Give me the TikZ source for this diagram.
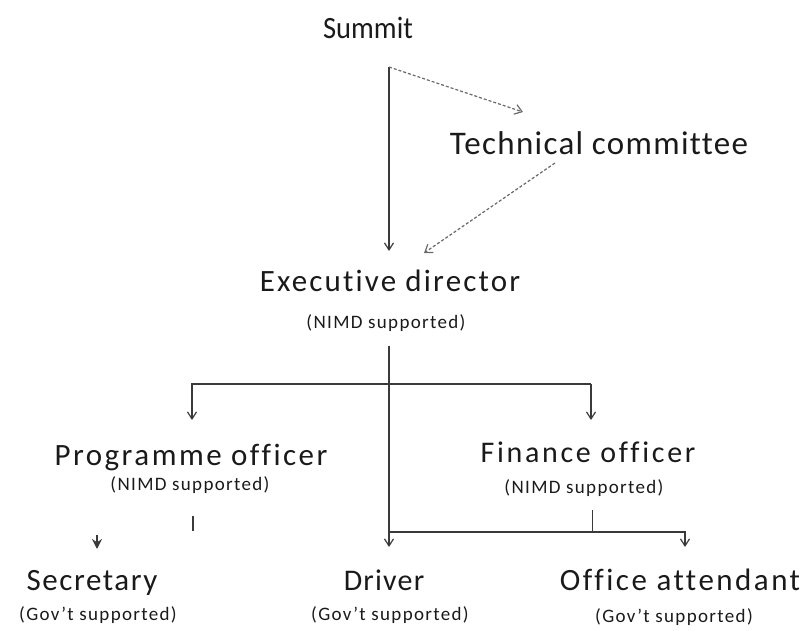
\documentclass[tikz,border=0pt]{standalone}
\usepackage{fontspec}
\setmainfont{Carlito}[Ligatures={NoCommon}]
\usetikzlibrary{arrows.meta}
\definecolor{txt}{HTML}{1A1A1A}
\definecolor{ln}{HTML}{3A3A3A}
\definecolor{dln}{HTML}{6A6A6A}
\newcommand{\bigf}[2]{\fontsize{#1}{#1}\selectfont\addfontfeature{LetterSpace=#2}}
\newcommand{\smallf}{\fontsize{19}{19}\selectfont\addfontfeature{LetterSpace=7}}
\tikzset{
  lbl/.style={anchor=base, inner sep=0pt, text=txt},
  sub/.style={anchor=base, inner sep=0pt, text=txt, font=\smallf},
  conn/.style={draw=ln, line width=1.3pt, -{Straight Barb[length=7pt,width=9pt,line width=1.2pt]}},
  dconn/.style={draw=dln, line width=1.2pt, dash pattern=on 3pt off 2pt, -{Straight Barb[length=7pt,width=10pt,line width=1.2pt]}},
  plain/.style={draw=ln, line width=1.3pt}
}
\begin{document}
\begin{tikzpicture}[x=1pt,y=-1pt]
\useasboundingbox (0,0) rectangle (804,631);
% texts
\node[lbl, font=\bigf{31}{0}] (summit) at (368,39) {\scalebox{0.92}[1]{Summit}};
\node[lbl, font=\bigf{33}{4}] (tech) at (599,155) {Technical committee};
\node[lbl, font=\bigf{31}{7}] (exec) at (390,292) {Executive director};
\node[sub] (execsub) at (386,329) {(NIMD supported)};
\node[lbl, font=\bigf{31}{8}] (prog) at (191,465) {Programme officer};
\node[sub] (progsub) at (190,490) {(NIMD supported)};
\node[lbl, font=\bigf{30}{9}] (fin) at (588,462) {Finance officer};
\node[sub] (finsub) at (584,493) {(NIMD supported)};
\node[lbl, font=\bigf{31}{5}] (sec) at (92,590) {Secretary};
\node[sub] (secsub) at (98,620) {(Gov’t supported)};
\node[lbl, font=\bigf{30}{4}] (drv) at (384,590) {Driver};
\node[sub] (drvsub) at (390,620) {(Gov’t supported)};
\node[lbl, font=\bigf{31}{8}] (att) at (680,590) {Office attendant};
\node[sub] (attsub) at (674,622) {(Gov’t supported)};
% junction coordinates
\coordinate (s0) at (389,67);
\coordinate (e0) at (389,251);
\coordinate (t0) at (523,112);
\coordinate (t1) at (555,163);
\coordinate (e1) at (424,253);
\coordinate (x0) at (389,346);
\coordinate (xh) at (389,384);
\coordinate (pL) at (192,384);
\coordinate (pA) at (192,420);
\coordinate (fR) at (591,384);
\coordinate (fA) at (591,420);
\coordinate (dJ) at (389,532);
\coordinate (dA) at (389,547);
\coordinate (aR) at (685,532);
\coordinate (aA) at (685,547);
\coordinate (f0) at (592,510);
\coordinate (f1) at (592,532);
\coordinate (p0) at (193,516);
\coordinate (p1) at (193,531);
\coordinate (q0) at (97,535);
\coordinate (q1) at (97,549);
% connectors
\draw[conn] (s0) -- (e0);
\draw[dconn] (s0) -- (t0);
\draw[dconn] (t1) -- (e1);
\draw[plain] (x0) -- (xh);
\draw[conn] (xh) -- (pL) -- (pA);
\draw[draw=ln, line width=2.6pt] (xh) -- (fR);
\draw[conn] (fR) -- (fA);
\draw[conn] (xh) -- (dJ) -- (dA);
\draw[plain, line width=1pt] (f0) -- (f1);
\draw[conn] (dJ) -- (aR) -- (aA);
\draw[plain, line width=2.2pt] (p0) -- (p1);
\draw[draw=ln, fill=ln, line width=1.5pt, -{Stealth[length=10pt,width=10pt]}] (q0) -- (q1);
\end{tikzpicture}
\end{document}
